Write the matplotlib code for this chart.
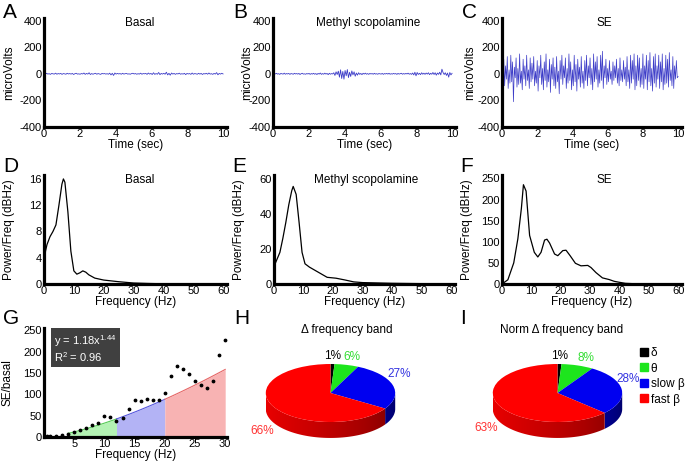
import numpy as np
import matplotlib
matplotlib.use("Agg")
import matplotlib.pyplot as plt
from matplotlib.patches import Polygon
from matplotlib.lines import Line2D

plt.rcParams['font.family'] = ['Liberation Sans', 'DejaVu Sans']
plt.rcParams['axes.unicode_minus'] = False
plt.rcParams['mathtext.default'] = 'regular'

# ---- EEG traces (microVolts), evenly spaced over 10 s ----
basal_uv = [2, -3, 4, -2, 1, -4, 3, 0, -2, 5, -3, 2, -1, 3, -4, 2, 0, -3, 4, -1,
            2, -2, 3, -5, 1, 4, -2, 0, -3, 2, -1, 6, -4, 3, -2, 8, -5, 2, -3, 1,
            4, -3, 2, -1, -4, 3, 0, 2, -2, 1, -3, 5, -8, 4, -12, 6, -2, 3, -1, 2,
            -3, 4, -2, 1, 3, -2, 0, -3, 2, 4, -1, 2, -3, 1, -2, 5, -3, 2, 0, 3,
            -4, 6, -2, 3, -5, 8, -4, 2, -3, 10, -6, 3, -2, 4, -3, 12, -8, 4, -10, 6,
            -2, 3, -4, 2, -1, 5, -3, 1, -2, 4, -6, 3, -1, 2, -4, 6, -3, 2, 0, -3,
            4, -2, 3, -5, 2, -1, 4, -3, 6, -2, 1, -4, 3, -2, 9, -7, 3, -2, 4, -1]
methyl_uv = [-3, 2, -1, 4, -2, 1, -4, 3, 0, -2, 5, -3, 2, -1, 3, -4, 2, 0, -3, 4,
             -1, 2, -2, 3, -5, 1, 4, -2, 0, -3, 2, -1, 3, -4, 2, -2, 4, -3, 2, -5,
             3, -2, 6, -4, 2, -3, 5, -2, 3, -6, 4, -3, 2, -1, 8, -12, 15, -5, 20, -25,
             30, -35, 18, -40, 25, -15, 32, -28, 12, -20, 22, -8, 15, -18, 6, -10, 8, -4, 3, -6,
             4, -2, 5, -3, 2, -4, 3, -1, 2, -3, 4, -2, 1, -3, 2, 0, -2, 3, -4, 2,
             -1, 3, -2, 4, -3, 1, -2, 3, -1, 2, -4, 3, -2, 1, 4, -3, 2, -2, 3, -1,
             5, -3, 2, -4, 6, -8, 12, -15, 10, -5, 4, -6, 8, -3, 5, -4, 6, -2, 8, -6,
             4, -3, 10, -5, 8, -10, 6, -4, 12, -8, 35, 10, -5, 8, -12, 6, -25, 10, -8, 4]
se_uv = [20, -60, 110, -90, 60, -40, 130, -110, 30, -70, 140, -60, 90, -210, 50, -30, 120, -100, 40, -80,
         150, -70, 20, -120, 110, -40, 60, -90, 140, -50, 30, -110, 120, -60, 80, -40, 130, -90, 20, -70,
         100, -130, 60, -30, 140, -80, 40, -120, 90, -50, 150, -100, 30, -60, 110, -140, 70, -40, 120, -90,
         50, -110, 130, -60, 20, -150, 100, -40, 140, -80, 60, -30, 120, -110, 40, -70, 150, -50, 90, -120,
         30, -90, 140, -60, 70, -130, 110, -40, 50, -100, 130, -70, 20, -110, 100, -50, 140, -90, 60, -30,
         120, -80, 40, -120, 150, -60, 90, -40, 130, -100, 30, -70, 140, -50, 170, -110, 60, -30, 110, -80,
         40, -60, 100, -40, 20, -80, 90, -50, 60, -30, 110, -70, 40, -90, 120, -50, 30, -60, 100, -40,
         50, -90, 130, -60, 30, -110, 140, -70, 100, -40, 150, -120, 60, -90, 140, -50, 120, -100, 40, -80,
         150, -110, 60, -40, 140, -120, 100, -60, 160, -90, 40, -130, 130, -70, 150, -100, 60, -40, 140, -110,
         90, -60, 150, -120, 40, -80, 140, -70, 110, -100, 160, -50, 30, -90, 130, -110, 60, -40, 100, -30, -20]

# ---- power spectra ----
freq_basal = [0, 0.5, 1, 2, 3, 4, 5, 6, 6.5, 7, 8, 9, 10, 11, 12, 13, 14, 15, 17, 20, 25, 30, 35, 40, 50, 60]
psd_basal = [2.5, 5, 6, 7.2, 8, 9, 12, 15.2, 16, 15.5, 11, 5, 2, 1.5, 1.7, 2.0, 1.8, 1.4, 0.9, 0.6,
             0.35, 0.15, 0.08, 0.03, 0.01, 0.0]
freq_methyl = [0, 1, 2, 3, 4, 5, 6, 6.5, 7.5, 8.5, 9.5, 10.5, 12, 15, 18, 21, 24, 27, 30, 35, 40, 45, 50, 55, 60]
psd_methyl = [10, 14, 18, 26, 35, 45, 53, 55.5, 51, 35, 18, 11.5, 9.6, 6.7, 3.8, 3.3, 2.3, 1.2, 0.8, 0.6,
              0.4, 0.3, 0.2, 0.1, 0.0]
freq_se = [0, 2, 4, 5.4, 6.6, 7.3, 8.2, 9.4, 11, 12.2, 13.3, 14.5, 15.3, 16.2, 17.9, 19, 20.7, 21.8, 23.2,
           25, 26.9, 29.2, 30.3, 32, 34.2, 36.5, 38.2, 40, 42, 45.5, 50, 60]
psd_se = [0, 10, 50, 107, 179, 235, 220, 115, 75, 64, 75, 104, 106, 97, 71, 67, 79, 80, 67,
          49, 43, 44, 39, 27, 14.5, 10.5, 6.4, 4, 1.6, 0.5, 0, 0]

# ---- SE/basal ratio and power-law fit ----
ratio_freq = [0.5, 1, 2, 3, 4, 5, 6, 7, 8, 9, 10, 11, 12, 13, 14, 15, 16, 17, 18, 19, 20,
              21, 22, 23, 24, 25, 26, 27, 28, 29, 30]
ratio_val = [2, 2, 3, 4, 7, 12, 16, 20, 27, 32, 48, 46, 38, 44, 65, 86, 85, 90, 86, 87, 103,
             142, 167, 158, 147, 131, 121, 115, 130, 191, 228]
fit_a, fit_b = 1.18, 1.44
band_edges = [4, 12, 20, 30]
band_fill = ['#b3f2b3', '#b3b3f5', '#f8b3b3']
band_line = ['#55cc55', '#5555dd', '#e66666']

# ---- frequency-band pies ----
band_names = ['δ', 'θ', 'slow β', 'fast β']
band_colors = ['#000000', '#1de51d', '#0000f0', '#ff0000']
label_colors = ['#000000', '#33dd33', '#3333e0', '#ff3333']
delta_band = [1, 6, 27, 66]
norm_band = [1, 8, 28, 63]

W, H = 685, 463
fig = plt.figure(figsize=(W / 100, H / 100), dpi=100)


def px_axes(l, t, w, h):
    return fig.add_axes([l / W, 1 - (t + h) / H, w / W, h / H])


def style(ax):
    for s in ['top', 'right']:
        ax.spines[s].set_visible(False)
    for s in ['left', 'bottom']:
        ax.spines[s].set_linewidth(2.3)
    ax.tick_params(length=0, pad=1.5, labelsize=8)


trace_col = '#3d3dc8'
traces = [(44, 183, basal_uv, 'Basal', 0.525, 15), (273, 183, methyl_uv, 'Methyl scopolamine', 0.52, 253),
          (502, 180, se_uv, 'SE', 0.57, 476)]
for left, wid, vals, title, tx, ylab_x in traces:
    ax = px_axes(left, 18, wid, 109)
    style(ax)
    t = np.linspace(0, 10, len(vals))
    ax.plot(t, vals, color=trace_col, lw=0.5 if title == 'SE' else 0.6)
    ax.set_xlim(0, 10.22)
    ax.set_ylim(-400, 420)
    ax.set_xticks([0, 2, 4, 6, 8, 10])
    ax.set_yticks([-400, -200, 0, 200, 400])
    ax.set_xlabel('Time (sec)', fontsize=8.5, labelpad=0)
    ax.set_ylabel('microVolts', fontsize=8.5)
    ax.yaxis.set_label_coords((ylab_x - left) / wid, 0.5)
    ax.text(tx, 0.955, title, transform=ax.transAxes, ha='center', va='center', fontsize=8.5)

spectra = [(44, 183, freq_basal, psd_basal, 'Basal', 0.525, (0, 16.6), [0, 4, 8, 12, 16], 15),
           (274, 181, freq_methyl, psd_methyl, 'Methyl scopolamine', 0.51, (0, 62), [0, 20, 40, 60], 245),
           (502, 180, freq_se, psd_se, 'SE', 0.57, (0, 258), [0, 50, 100, 150, 200, 250], 473)]
for left, wid, f, p, title, tx, yl, yt, ylab_x in spectra:
    ax = px_axes(left, 175, wid, 109)
    style(ax)
    ax.plot(f, p, color='black', lw=0.9)
    ax.set_xlim(0, 61.3)
    ax.set_ylim(*yl)
    ax.set_xticks(range(0, 61, 10))
    ax.set_yticks(yt)
    ax.set_xlabel('Frequency (Hz)', fontsize=8.5, labelpad=0)
    ax.set_ylabel('Power/Freq (dBHz)', fontsize=8.5)
    ax.yaxis.set_label_coords((ylab_x - left) / wid, 0.5)
    ax.text(tx, 0.955, title, transform=ax.transAxes, ha='center', va='center', fontsize=8.5)

# G: ratio with fit
ax = px_axes(44, 328, 183, 109)
style(ax)
for i in range(3):
    xs = np.linspace(band_edges[i], band_edges[i + 1], 60)
    ys = fit_a * xs ** fit_b
    ax.fill_between(xs, 0, ys, color=band_fill[i], lw=0)
    ax.plot(xs, ys, color=band_line[i], lw=0.8)
ax.scatter(ratio_freq, ratio_val, s=3, color='black', zorder=3)
ax.set_xlim(0, 30.3)
ax.set_ylim(0, 255)
ax.set_xticks([5, 10, 15, 20, 25, 30])
ax.set_yticks([0, 50, 100, 150, 200, 250])
ax.set_xlabel('Frequency (Hz)', fontsize=8.5, labelpad=0)
ax.set_ylabel('SE/basal', fontsize=8.5)
ax.yaxis.set_label_coords((13 - 44) / 183, 0.5)
ax.text(0.055, 0.955, 'y = %.2fx$^{%.2f}$\nR$^{2}$ = 0.96' % (fit_a, fit_b), transform=ax.transAxes,
        ha='left', va='top', color='white', fontsize=8, linespacing=1.1,
        bbox=dict(boxstyle='square,pad=0.3', fc='#404040', ec='none'))


# H, I: 3D-looking pies
RX, RY, DEPTH = 64.7, 29.0, 0.55


def side_shade(x):
    # darker towards the right-hand front of the pie
    t = -np.degrees(np.arccos(np.clip(x, -1, 1)))
    return 0.92 - 0.5 * ((t + 180) / 180) ** 1.5


def pie3d(cx, cy, vals, title, title_x, nudges):
    ax = px_axes(cx - 1.6 * RX, cy - 1.6 * RY, 3.2 * RX, 3.5 * RY)
    ax.pie(vals, colors=band_colors, startangle=90, counterclock=False,
           wedgeprops=dict(linewidth=0))
    ax.set_aspect('auto')
    fr = np.array(vals, dtype=float) / sum(vals)
    edges = 90 - 360 * np.concatenate([[0], np.cumsum(fr)])
    gx = np.linspace(-1, 1, 400)
    for i in range(len(vals)):
        lo, hi = max(edges[i + 1], -180), min(edges[i], 0)
        if lo >= hi:
            continue
        ts = np.radians(np.linspace(lo, hi, 80))
        top = np.column_stack([np.cos(ts), np.sin(ts)])
        bot = np.column_stack([np.cos(ts[::-1]), np.sin(ts[::-1]) - DEPTH])
        patch = Polygon(np.vstack([top, bot]), closed=True, fc='none', ec='none')
        ax.add_patch(patch)
        base = np.array(matplotlib.colors.to_rgb(band_colors[i]))
        img = (side_shade(gx)[:, None] * base[None, :])[None, :, :]
        im = ax.imshow(img, extent=(-1, 1, -1 - DEPTH, 0), aspect='auto', zorder=0,
                       interpolation='bilinear')
        im.set_clip_path(patch)
    ax.set_xlim(-1.6, 1.6)
    ax.set_ylim(-1.9, 1.6)
    ax.axis('off')
    for i in range(len(vals)):
        mid = np.radians(0.5 * (edges[i] + edges[i + 1]))
        x = 1.2 * np.cos(mid) + nudges[i][0] / RX
        y = 1.25 * np.sin(mid) + nudges[i][1] / RY
        if np.sin(mid) < 0:
            y -= DEPTH
        ax.text(x, y, '%d%%' % vals[i], color=label_colors[i], ha='center', va='center', fontsize=8.5)
    fig.text(title_x / W, 1 - 330 / H, title, ha='center', va='center', fontsize=8.5)
    return ax


pie3d(330.5, 393, delta_band, 'Δ frequency band', 347, [(0, 1), (2, 1), (-6, 9), (0, -5)])
ax_i = pie3d(557.5, 393, norm_band, 'Norm Δ frequency band', 562, [(0, 1), (4, 1), (-6, 9), (0, -5)])
handles = [Line2D([], [], ls='none', marker='s', ms=6, mfc=c, mec=c) for c in band_colors]
ax_i.legend(handles, band_names, loc='upper left', bbox_to_anchor=(640 / W, 1 - 347 / H),
            bbox_transform=fig.transFigure, frameon=False, fontsize=8.5, handlelength=0.7,
            handletextpad=0.2, labelspacing=0.3, borderpad=0, borderaxespad=0)

for letter, x, y in [('A', 3, 13), ('B', 233, 13), ('C', 462, 13),
                     ('D', 3, 167), ('E', 232, 167), ('F', 460, 167),
                     ('G', 3, 318), ('H', 234, 318), ('I', 460, 318)]:
    fig.text(x / W, 1 - y / H, letter, fontsize=15, ha='left', va='center')

fig.savefig('out.png', dpi=100)
